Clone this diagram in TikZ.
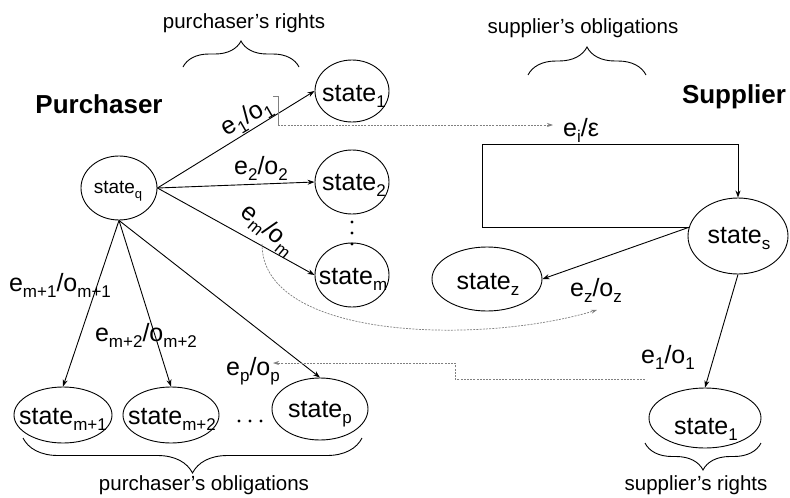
\documentclass[tikz,border=0pt]{standalone}
\usepackage{fontspec}
\setmainfont{Liberation Sans}
\usetikzlibrary{shapes.geometric,arrows.meta,decorations.pathreplacing}
\newcommand{\lowidx}[1]{\raisebox{-6pt}{\fontsize{17}{17}\selectfont #1}}
\newcommand{\lowidxs}[1]{\raisebox{-5pt}{\fontsize{13}{13}\selectfont #1}}
\begin{document}
\begin{tikzpicture}[x=1pt,y=-1pt,
  st/.style={ellipse, draw, line width=0.9pt, inner sep=0pt},
  stt/.style={font=\fontsize{25}{25}\selectfont, inner sep=0pt, anchor=base},
  lab/.style={font=\fontsize{25}{25}\selectfont, inner sep=0pt},
  grp/.style={font=\fontsize{20.5}{20.5}\selectfont, inner sep=0pt, anchor=base},
  ttl/.style={font=\fontsize{26}{26}\selectfont\bfseries, inner sep=0pt, anchor=base},
  arr/.style={line width=0.9pt, -{Stealth[length=7pt,width=5pt]}},
  dotl/.style={draw=gray, line width=0.7pt, dash pattern=on 2pt off 1.2pt},
  dotarr/.style={dotl, -{Stealth[length=6pt,width=4pt]}},
  brc/.style={line width=0.9pt, decorate, decoration={brace, amplitude=#1}},
  dotmark/.style={circle, fill, inner sep=0pt, minimum size=3.2pt},
]
\fill[white] (0,0) rectangle (790,498);
\useasboundingbox (0,0) rectangle (790,498);

% titles and group labels
\node[ttl] (tpur) at (99,113) {Purchaser};
\node[ttl] (tsup) at (734,103) {Supplier};
\node[grp] (gpr) at (244,28) {purchaser's rights};
\node[grp] (gso) at (583,33) {supplier's obligations};
\node[grp] (gpo) at (204,490) {purchaser's obligations};
\node[grp] (gsr) at (696,490) {supplier's rights};

% braces
\coordinate (b1a) at (183,67);  \coordinate (b1b) at (299,67);
\coordinate (b2a) at (528,75);  \coordinate (b2b) at (646,75);
\coordinate (b3a) at (362,438); \coordinate (b3b) at (23,438);
\coordinate (b4a) at (761,443); \coordinate (b4b) at (645,443);
\draw[brc=26] (b1a) -- (b1b);
\draw[brc=28] (b2a) -- (b2b);
\draw[brc=35] (b3a) -- (b3b);
\draw[brc=27] (b4a) -- (b4b);

% purchaser states
\node[st, minimum width=76pt, minimum height=64pt] (sq) at (119,188) {};
\node[stt, font=\fontsize{19}{19}\selectfont] (sqt) at (118,193) {state\lowidxs{q}};
\node[st, minimum width=74pt, minimum height=62pt] (s1) at (352,91) {};
\node[stt] (s1t) at (354,101) {state\lowidx{1}};
\node[st, minimum width=74pt, minimum height=64pt] (s2) at (352,182) {};
\node[stt] (s2t) at (354,190) {state\lowidx{2}};
\node[st, minimum width=74pt, minimum height=64pt] (sm) at (352,275) {};
\node[stt] (smt) at (353,284) {state\lowidx{m}};
\node[st, minimum width=98pt, minimum height=56pt] (sm1) at (63,415) {};
\node[stt] (sm1t) at (63,424) {state\lowidx{m+1}};
\node[st, minimum width=96pt, minimum height=56pt] (sm2) at (171,415) {};
\node[stt] (sm2t) at (172,424) {state\lowidx{m+2}};
\node[st, minimum width=96pt, minimum height=62pt] (sp) at (320,409) {};
\node[stt] (spt) at (320,417) {state\lowidx{p}};

% supplier states
\node[st, minimum width=100pt, minimum height=76pt] (ss) at (738,236) {};
\node[stt] (sst) at (739,243) {state\lowidx{s}};
\node[st, minimum width=110pt, minimum height=64pt] (sz) at (487,279) {};
\node[stt] (szt) at (488,289) {state\lowidx{z}};
\node[st, minimum width=112pt, minimum height=60pt] (sr1) at (705,418) {};
\node[stt] (sr1t) at (706,434) {state\lowidx{1}};

% vertical dots and horizontal dots
\node[dotmark] (vd1) at (352,222) {};
\node[dotmark] (vd2) at (352,233) {};
\node[dotmark] (vd3) at (352,244) {};
\node[dotmark] (hd1) at (239,421) {};
\node[dotmark] (hd2) at (250,421) {};
\node[dotmark] (hd3) at (261,421) {};

% purchaser transitions
\draw[arr] (sq.east) -- (s1.west);
\draw[arr] (sq.east) -- (s2.west);
\draw[arr] (sq.east) -- (sm.west);
\draw[arr] (sq.south) -- (sm1.north);
\draw[arr] (sq.south) -- (sm2.north);
\draw[arr] (sq.south) -- (sp.north);

\node[lab, rotate=30] (le1) at (247,118) {e\lowidx{1}/o\lowidx{1}};
\node[lab, anchor=base] (le2) at (261,174) {e\lowidx{2}/o\lowidx{2}};
\node[lab, rotate=-40] (lem) at (268,230) {e\lowidx{m}/o\lowidx{m}};
\node[lab, anchor=base] (lem1) at (60,291) {e\lowidx{m+1}/o\lowidx{m+1}};
\node[lab, anchor=base] (lem2) at (146,341) {e\lowidx{m+2}/o\lowidx{m+2}};
\node[lab, anchor=base] (lep) at (253,375) {e\lowidx{p}/o\lowidx{p}};

% supplier transitions
\coordinate (lpA) at (482,144);
\draw[arr] (ss.170) -| (lpA) -| (ss.north);
\draw[arr] (ss.170) -- (sz.east);
\draw[arr] (ss.south) -- (sr1.north);
\node[lab, anchor=base] (lei) at (581,136) {e\lowidx{i}/ε};
\node[lab, anchor=base] (lez) at (596,296) {e\lowidx{z}/o\lowidx{z}};
\node[lab, anchor=base] (les1) at (668,363) {e\lowidx{1}/o\lowidx{1}};

% dotted correspondences
\coordinate (k1) at (273,96);
\coordinate (k2) at (278,96);
\coordinate (k3) at (278,125);
\coordinate (k4) at (553,125);
\draw[gray, line width=0.7pt] (k1) -- (k2) -- (k3);
\draw[dotarr] (k3) -- (k4);

\coordinate (c1) at (262,244);
\coordinate (c2) at (597,310);
\draw[dotarr] (c1) .. controls (262,340) and (480,345) .. (c2);

\coordinate (d1) at (645,379);
\coordinate (d2) at (455,379);
\coordinate (d3) at (455,363);
\coordinate (d4) at (273,363);
\draw[dotarr] (d1) -- (d2) -- (d3) -- (d4);
\end{tikzpicture}
\end{document}
